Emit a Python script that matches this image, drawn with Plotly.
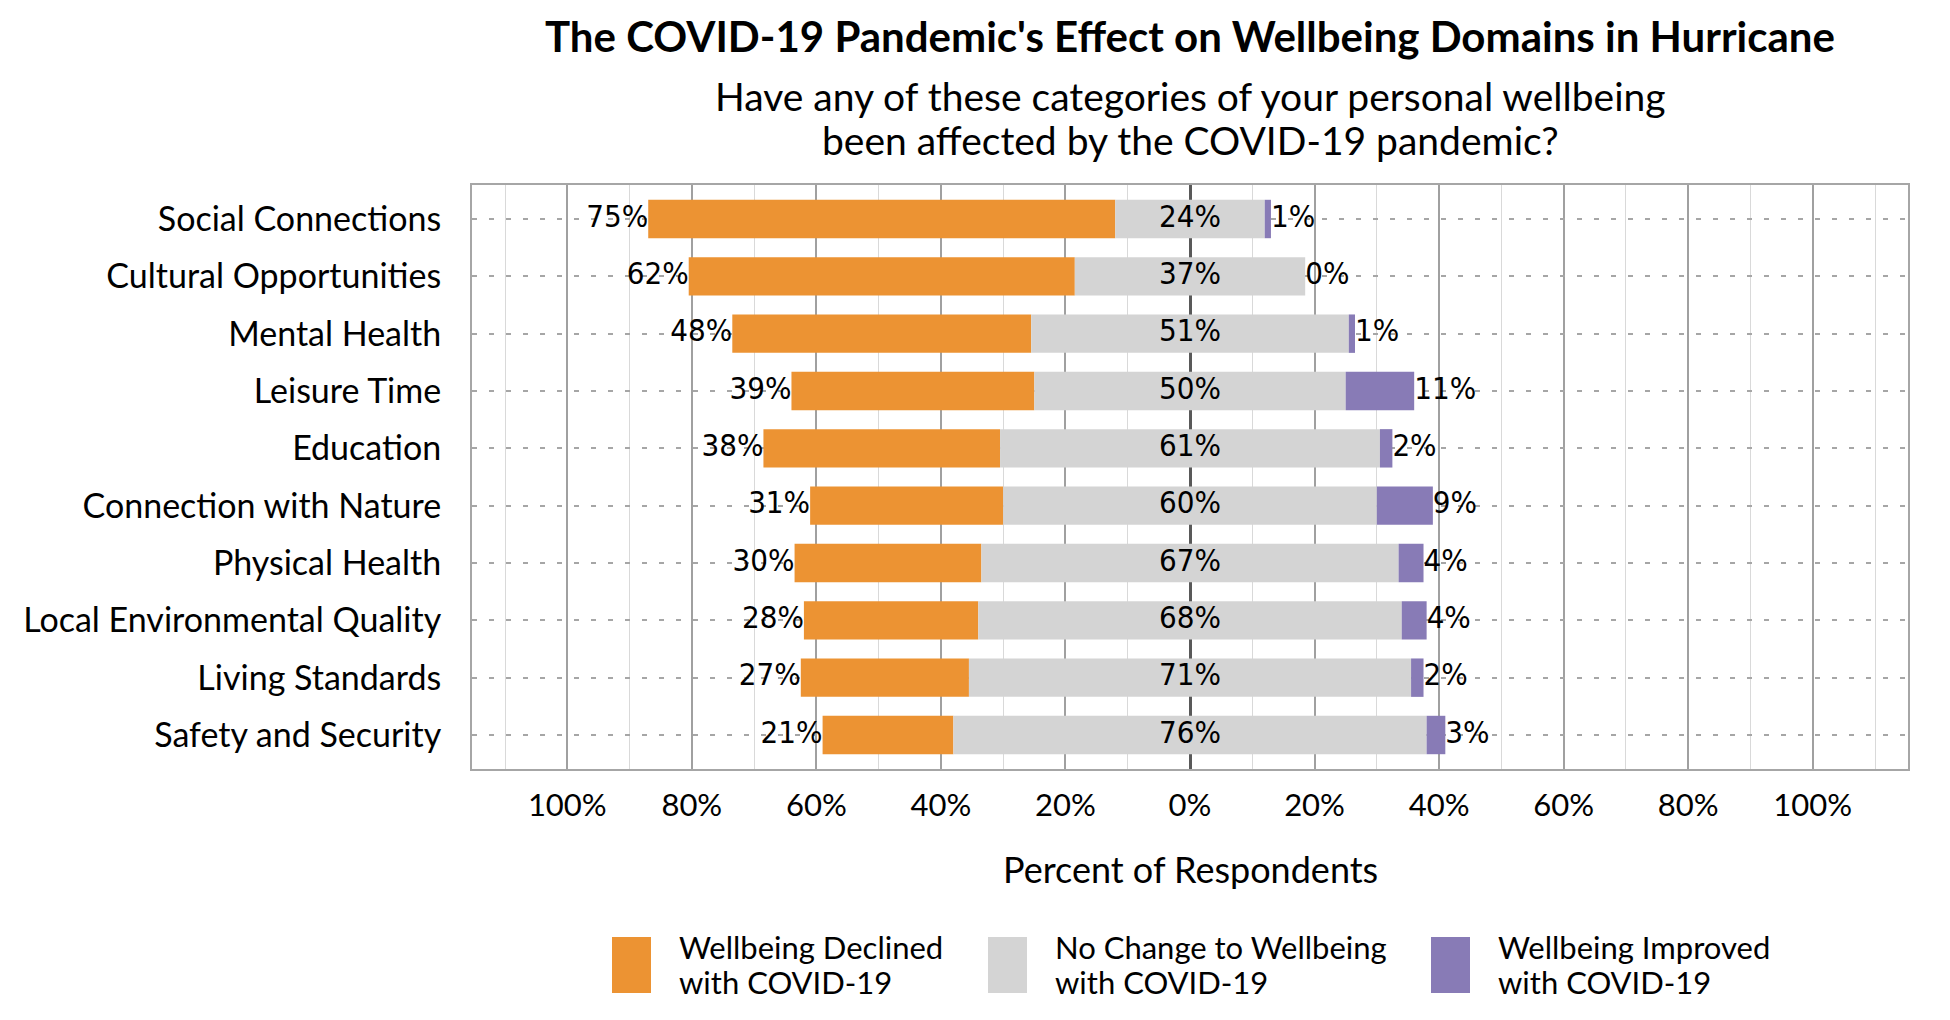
import plotly.graph_objects as go

# Categorie (dall'alto verso il basso) e percentuali
categorie = [
    "Social Connections",
    "Cultural Opportunities",
    "Mental Health",
    "Leisure Time",
    "Education",
    "Connection with Nature",
    "Physical Health",
    "Local Environmental Quality",
    "Living Standards",
    "Safety and Security",
]
peggiorato = [75, 62, 48, 39, 38, 31, 30, 28, 27, 21]
nessun_cambio = [24, 37, 51, 50, 61, 60, 67, 68, 71, 76]
migliorato = [1, 0, 1, 11, 2, 9, 4, 4, 2, 3]

tick_vals = [-100, -80, -60, -40, -20, 0, 20, 40, 60, 80, 100]
tick_text = ["100%", "80%", "60%", "40%", "20%", "0%", "20%", "40%", "60%", "80%", "100%"]

# Nomi delle serie in legenda (due righe ciascuno)
nomi_serie = [
    ["Wellbeing Declined", "with COVID-19"],
    ["No Change to Wellbeing", "with COVID-19"],
    ["Wellbeing Improved", "with COVID-19"],
]

ARANCIO = "#EC9333"
GRIGIO = "#D4D4D4"
VIOLA = "#887BB6"

FONT = "Lato, 'Open Sans', sans-serif"
FONT_NUM = "'Liberation Sans Narrow', 'Arial Narrow', 'DejaVu Sans Condensed', sans-serif"

# Margini in pixel dell'area del grafico
# (la pagina html aggiunge 8px di margine al body, quindi tutto e' spostato di 8px)
M_L, M_R, M_T, M_B = 464, 50, 177, 259
W, H = 1950, 1020


def y_px(py):
    # converte la posizione verticale in pixel in coordinate paper
    top, bottom = M_T, H - M_B
    return (bottom - py) / (bottom - top)


def x_px(px):
    left, right = M_L, W - M_R
    return (px - left) / (right - left)


# Il grigio e' centrato sullo zero, arancio a sinistra, viola a destra
meta = [n / 2 for n in nessun_cambio]
base_sx = [-m for m in meta]
fine_sx = [-(m + p) for m, p in zip(meta, peggiorato)]
fine_dx = [m + v for m, v in zip(meta, migliorato)]

fig = go.Figure()

fig.add_trace(go.Bar(
    y=categorie, x=[-p for p in peggiorato], base=base_sx, orientation="h",
    marker=dict(color=ARANCIO, line_width=0), width=0.67, name=" ".join(nomi_serie[0]),
))
fig.add_trace(go.Bar(
    y=categorie, x=nessun_cambio, base=base_sx, orientation="h",
    marker=dict(color=GRIGIO, line_width=0), width=0.67, name=" ".join(nomi_serie[1]),
))
fig.add_trace(go.Bar(
    y=categorie, x=migliorato, base=meta, orientation="h",
    marker=dict(color=VIOLA, line_width=0), width=0.67, name=" ".join(nomi_serie[2]),
))

# Etichette percentuali
font_num = dict(family=FONT_NUM, size=31, color="#000000")
fig.add_trace(go.Scatter(
    y=categorie, x=fine_sx, mode="text", text=[f"{p}%" for p in peggiorato],
    textposition="middle left", textfont=font_num, cliponaxis=False,
))
fig.add_trace(go.Scatter(
    y=categorie, x=[0] * len(categorie), mode="text",
    text=[f"{n}%" for n in nessun_cambio],
    textposition="middle center", textfont=font_num, cliponaxis=False,
))
fig.add_trace(go.Scatter(
    y=categorie, x=fine_dx, mode="text", text=[f"{v}%" for v in migliorato],
    textposition="middle right", textfont=font_num, cliponaxis=False,
))

fig.update_layout(
    width=W,
    height=H,
    margin=dict(l=M_L, r=M_R, t=M_T, b=M_B),
    barmode="overlay",
    showlegend=False,
    plot_bgcolor="white",
    paper_bgcolor="white",
    font=dict(family=FONT, size=30, color="#000000"),
    xaxis=dict(
        range=[-115.3, 115.3],
        tickmode="array",
        tickvals=tick_vals,
        ticktext=tick_text,
        showgrid=True,
        gridcolor="#A0A0A0",
        gridwidth=2,
        minor=dict(tickmode="linear", tick0=0, dtick=10, showgrid=True,
                   gridcolor="#D9D9D9", gridwidth=1),
        zeroline=True,
        zerolinecolor="#595959",
        zerolinewidth=3,
        showline=True,
        mirror=True,
        linecolor="#A6A6A6",
        linewidth=2,
        ticklabelstandoff=8,
        tickfont=dict(size=31),
        fixedrange=True,
    ),
    yaxis=dict(
        range=[9.593, -0.593],
        showgrid=True,
        gridcolor="#A6A6A6",
        gridwidth=2,
        griddash="5px,12px",
        showline=True,
        mirror=True,
        linecolor="#A6A6A6",
        linewidth=2,
        ticklabelstandoff=22,
        tickfont=dict(size=34),
        fixedrange=True,
    ),
)

# Titolo, sottotitolo e titolo asse
fig.add_annotation(
    text="<b>The COVID-19 Pandemic's Effect on Wellbeing Domains in Hurricane</b>",
    x=0.5, xref="paper", y=y_px(28), yref="paper", yanchor="middle",
    showarrow=False, font=dict(size=42),
)
fig.add_annotation(
    text="Have any of these categories of your personal wellbeing",
    x=0.5, xref="paper", y=y_px(88), yref="paper", yanchor="middle",
    showarrow=False, font=dict(size=39),
)
fig.add_annotation(
    text="been affected by the COVID-19 pandemic?",
    x=0.5, xref="paper", y=y_px(132), yref="paper", yanchor="middle",
    showarrow=False, font=dict(size=39),
)
fig.add_annotation(
    text="Percent of Respondents",
    x=0.5, xref="paper", y=y_px(861), yref="paper", yanchor="middle",
    showarrow=False, font=dict(size=36),
)

# Legenda disegnata a mano con riquadri grandi come nell'originale
legenda_x = [604, 980, 1423]
colori = [ARANCIO, GRIGIO, VIOLA]
for lx, col, righe in zip(legenda_x, colori, nomi_serie):
    fig.add_shape(
        type="rect", xref="paper", yref="paper",
        x0=x_px(lx), x1=x_px(lx + 39), y0=y_px(985), y1=y_px(929),
        fillcolor=col, line_width=0,
    )
    for riga, py in zip(righe, [939, 974]):
        fig.add_annotation(
            text=riga, x=x_px(lx + 65), xref="paper", xanchor="left",
            y=y_px(py), yref="paper", yanchor="middle", align="left",
            showarrow=False, font=dict(size=31),
        )

fig.write_html("out.html")
